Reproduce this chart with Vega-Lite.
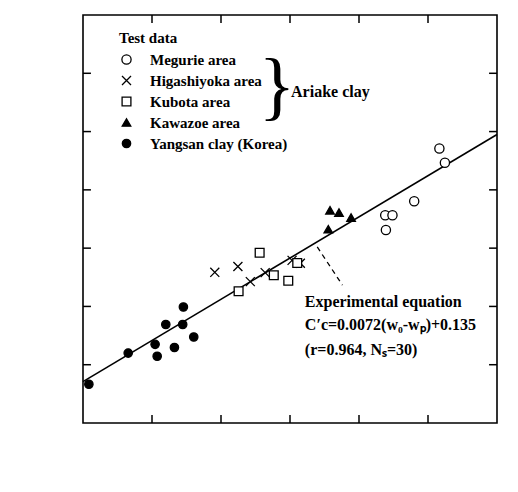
{
  "$schema": "https://vega.github.io/schema/vega-lite/v6.json",
  "width": 414,
  "height": 408,
  "autosize": "none",
  "padding": {"left": 83, "top": 15, "right": 21, "bottom": 69},
  "background": "white",
  "config": {
    "font": "Liberation Serif",
    "view": {"stroke": "black", "strokeWidth": 1.6, "fill": null},
    "axis": {
      "grid": false,
      "domain": false,
      "ticks": false,
      "labelColor": "black",
      "labelFont": "Liberation Serif",
      "labelFontSize": 15,
      "labelFontWeight": "bold",
      "labelPadding": 10,
      "titleColor": "black",
      "titleFont": "Liberation Serif",
      "titleFontSize": 17,
      "titleFontWeight": "bold"
    },
    "legend": {
      "orient": "none",
      "legendX": 36,
      "legendY": 16,
      "padding": 0,
      "titleFont": "Liberation Serif",
      "titleFontSize": 15,
      "titleFontWeight": "bold",
      "titleColor": "black",
      "titlePadding": 6,
      "labelFont": "Liberation Serif",
      "labelFontSize": 15,
      "labelFontWeight": "bold",
      "labelColor": "black",
      "labelOffset": 16,
      "rowPadding": 5,
      "symbolStrokeColor": "black",
      "symbolStrokeWidth": 1.3
    }
  },
  "layer": [
    {
      "data": {"values": [{"x": 0, "y": 0.142}, {"x": 120, "y": 0.99}]},
      "mark": {"type": "line", "color": "black", "strokeWidth": 1.6},
      "encoding": {
        "x": {"field": "x", "type": "quantitative", "scale": {"domain": [0, 120], "nice": false, "zero": false}, "axis": null},
        "y": {"field": "y", "type": "quantitative", "scale": {"domain": [0, 1.4], "nice": false}, "axis": null}
      }
    },
    {
      "data": {"values": [{"t": 20}, {"t": 40}, {"t": 60}, {"t": 80}, {"t": 100}]},
      "mark": {"type": "rule", "color": "black", "strokeWidth": 1.5},
      "encoding": {
        "x": {"field": "t", "type": "quantitative", "axis": null},
        "y": {"datum": 0, "type": "quantitative", "axis": null},
        "y2": {"datum": 0.0275}
      }
    },
    {
      "data": {"values": [{"t": 20}, {"t": 40}, {"t": 60}, {"t": 80}, {"t": 100}]},
      "mark": {"type": "rule", "color": "black", "strokeWidth": 1.5},
      "encoding": {
        "x": {"field": "t", "type": "quantitative", "axis": null},
        "y": {"datum": 1.4, "type": "quantitative", "axis": null},
        "y2": {"datum": 1.3725}
      }
    },
    {
      "data": {"values": [{"t": 0.2}, {"t": 0.4}, {"t": 0.6}, {"t": 0.8}, {"t": 1.0}, {"t": 1.2}]},
      "mark": {"type": "rule", "color": "black", "strokeWidth": 1.5},
      "encoding": {
        "y": {"field": "t", "type": "quantitative", "axis": null},
        "x": {"datum": 0, "type": "quantitative", "axis": null},
        "x2": {"datum": 2.3}
      }
    },
    {
      "data": {"values": [{"t": 0.2}, {"t": 0.4}, {"t": 0.6}, {"t": 0.8}, {"t": 1.0}, {"t": 1.2}]},
      "mark": {"type": "rule", "color": "black", "strokeWidth": 1.5},
      "encoding": {
        "y": {"field": "t", "type": "quantitative", "axis": null},
        "x": {"datum": 120, "type": "quantitative", "axis": null},
        "x2": {"datum": 117.7}
      }
    },
    {
      "data": {"values": [
        {"group": "Megurie area", "x": 103.3, "y": 0.942},
        {"group": "Megurie area", "x": 104.9, "y": 0.893},
        {"group": "Megurie area", "x": 96.0, "y": 0.761},
        {"group": "Megurie area", "x": 87.6, "y": 0.713},
        {"group": "Megurie area", "x": 89.7, "y": 0.713},
        {"group": "Megurie area", "x": 87.8, "y": 0.662},
        {"group": "Higashiyoka area", "x": 38.2, "y": 0.517},
        {"group": "Higashiyoka area", "x": 44.9, "y": 0.537},
        {"group": "Higashiyoka area", "x": 48.5, "y": 0.485},
        {"group": "Higashiyoka area", "x": 52.8, "y": 0.516},
        {"group": "Higashiyoka area", "x": 60.6, "y": 0.558},
        {"group": "Higashiyoka area", "x": 63.0, "y": 0.548},
        {"group": "Kubota area", "x": 45.1, "y": 0.452},
        {"group": "Kubota area", "x": 51.2, "y": 0.584},
        {"group": "Kubota area", "x": 55.3, "y": 0.507},
        {"group": "Kubota area", "x": 59.5, "y": 0.488},
        {"group": "Kubota area", "x": 62.1, "y": 0.549},
        {"group": "Kawazoe area", "x": 71.6, "y": 0.730},
        {"group": "Kawazoe area", "x": 74.2, "y": 0.722},
        {"group": "Kawazoe area", "x": 77.7, "y": 0.705},
        {"group": "Kawazoe area", "x": 71.1, "y": 0.665},
        {"group": "Yangsan clay (Korea)", "x": 1.7, "y": 0.133},
        {"group": "Yangsan clay (Korea)", "x": 13.1, "y": 0.240},
        {"group": "Yangsan clay (Korea)", "x": 20.9, "y": 0.270},
        {"group": "Yangsan clay (Korea)", "x": 21.5, "y": 0.229},
        {"group": "Yangsan clay (Korea)", "x": 24.0, "y": 0.338},
        {"group": "Yangsan clay (Korea)", "x": 26.5, "y": 0.259},
        {"group": "Yangsan clay (Korea)", "x": 29.1, "y": 0.398},
        {"group": "Yangsan clay (Korea)", "x": 28.9, "y": 0.338},
        {"group": "Yangsan clay (Korea)", "x": 32.1, "y": 0.295}
      ]},
      "mark": {"type": "point", "strokeWidth": 1.3, "opacity": 1},
      "encoding": {
        "x": {"field": "x", "type": "quantitative",
          "axis": {"orient": "bottom", "values": [0, 20, 40, 60, 80, 100, 120], "labelFontStyle": "italic", "title": "w₀-wₚ (%)", "titleColor": "black", "titleFontStyle": "italic", "titlePadding": 17}},
        "y": {"field": "y", "type": "quantitative",
          "axis": {"orient": "left", "values": [0, 0.2, 0.4, 0.6, 0.8, 1.0, 1.2, 1.4], "format": ".1f", "title": "C′c", "titleColor": "black", "titleFontStyle": "italic", "titleFontWeight": "normal", "titleFontSize": 18, "titlePadding": 12}},
        "shape": {"field": "group", "type": "nominal",
          "scale": {"domain": ["Megurie area", "Higashiyoka area", "Kubota area", "Kawazoe area", "Yangsan clay (Korea)"],
            "range": ["circle", "M-1,-1L1,1M-1,1L1,-1", "square", "triangle-up", "circle"]},
          "legend": {"title": "Test data"}},
        "fill": {"field": "group", "type": "nominal",
          "scale": {"domain": ["Megurie area", "Higashiyoka area", "Kubota area", "Kawazoe area", "Yangsan clay (Korea)"],
            "range": ["white", "white", "white", "black", "black"]},
          "legend": {"title": "Test data"}},
        "stroke": {"field": "group", "type": "nominal",
          "scale": {"domain": ["Megurie area", "Higashiyoka area", "Kubota area", "Kawazoe area", "Yangsan clay (Korea)"],
            "range": ["black", "black", "black", "black", "black"]},
          "legend": {"title": "Test data"}},
        "size": {"field": "group", "type": "nominal",
          "scale": {"domain": ["Megurie area", "Higashiyoka area", "Kubota area", "Kawazoe area", "Yangsan clay (Korea)"],
            "range": [85, 70, 64, 95, 110]},
          "legend": {"title": "Test data"}}
      }
    },
    {
      "data": {"values": [{"x": 67.9, "y": 0.604, "x2": 75.2, "y2": 0.473}]},
      "mark": {"type": "rule", "color": "black", "strokeWidth": 1.3, "strokeDash": [5, 4]},
      "encoding": {
        "x": {"field": "x", "type": "quantitative", "axis": null},
        "y": {"field": "y", "type": "quantitative", "axis": null},
        "x2": {"field": "x2"},
        "y2": {"field": "y2"}
      }
    },
    {
      "data": {"values": [
        {"label": "Experimental equation", "x": 64.3, "y": 0.415},
        {"label": "C′c=0.0072(w₀-wₚ)+0.135", "x": 64.3, "y": 0.336},
        {"label": "(r=0.964, Nₛ=30)", "x": 64.3, "y": 0.250},
        {"label": "Ariake clay", "x": 60.3, "y": 1.136}
      ]},
      "mark": {"type": "text", "align": "left", "baseline": "middle", "font": "Liberation Serif", "fontSize": 16, "fontWeight": "bold", "color": "black"},
      "encoding": {
        "x": {"field": "x", "type": "quantitative", "axis": null},
        "y": {"field": "y", "type": "quantitative", "axis": null},
        "text": {"field": "label"}
      }
    },
    {
      "data": {"values": [{"label": "}", "x": 56.2, "y": 1.15}]},
      "mark": {"type": "text", "align": "center", "baseline": "middle", "font": "Liberation Serif", "fontSize": 76, "fontWeight": "normal", "color": "black"},
      "encoding": {
        "x": {"field": "x", "type": "quantitative", "axis": null},
        "y": {"field": "y", "type": "quantitative", "axis": null},
        "text": {"field": "label"}
      }
    }
  ]
}
